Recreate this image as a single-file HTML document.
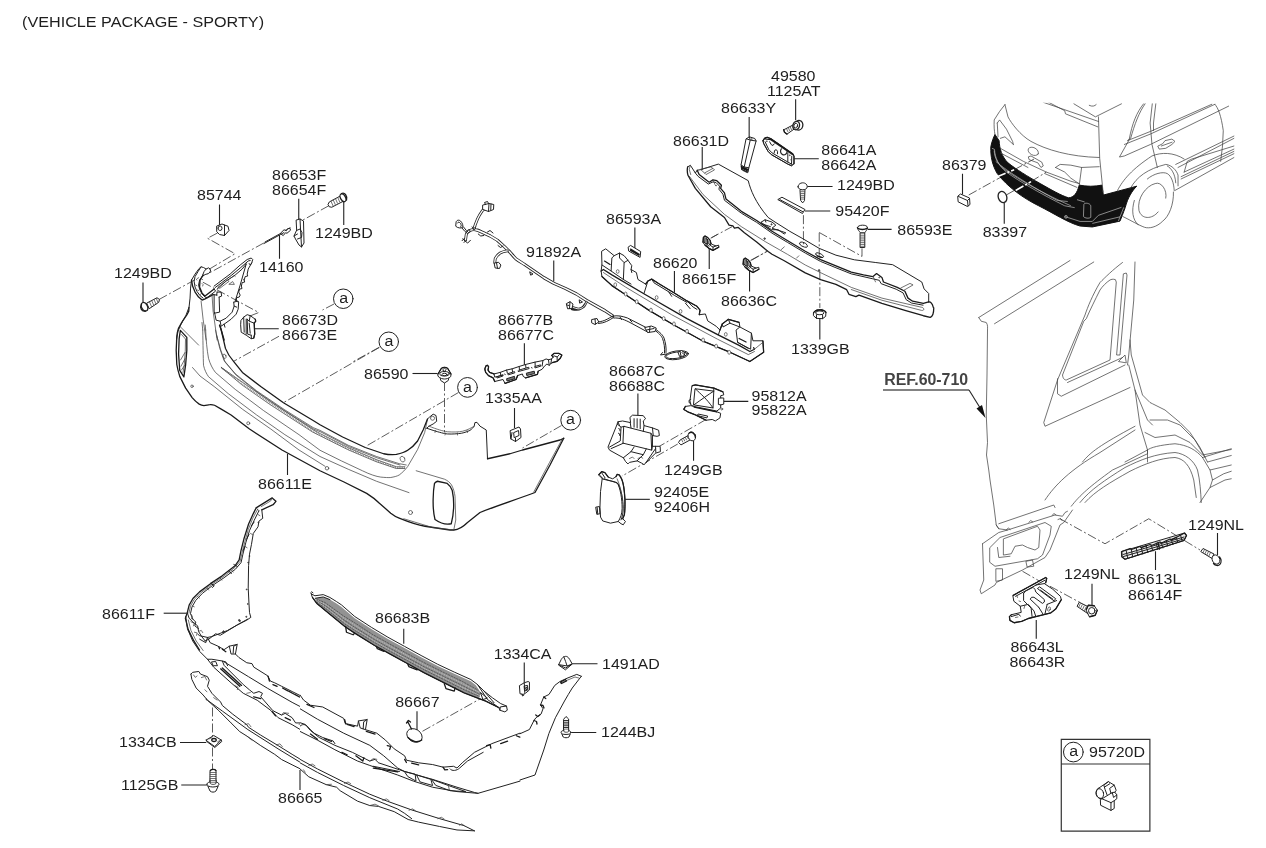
<!DOCTYPE html>
<html><head><meta charset="utf-8"><title>Rear Bumper</title>
<style>
html,body{margin:0;padding:0;background:#fff;}
body{width:1266px;height:848px;overflow:hidden;font-family:"Liberation Sans",sans-serif;}
svg{display:block;position:absolute;left:0;top:0;will-change:transform;}
svg text{font-family:"Liberation Sans",sans-serif;font-size:15.3px;fill:#1e1e1e;}
svg path,svg circle,svg ellipse,svg rect,svg line,svg polyline,svg polygon{vector-effect:non-scaling-stroke;}
svg .h ellipse,svg .h circle{vector-effect:none;}
.l{fill:none;stroke:#222;stroke-width:1;stroke-linecap:round;stroke-linejoin:round;}
.t{fill:none;stroke:#444;stroke-width:0.75;stroke-linecap:round;stroke-linejoin:round;}
.w{fill:#fff;stroke:#222;stroke-width:1;stroke-linejoin:round;stroke-linecap:round;}
.d{fill:none;stroke:#333;stroke-width:0.8;stroke-dasharray:9 2.5 2 2.5;}
.k{fill:none;stroke:#1a1a1a;stroke-width:1.3;stroke-linecap:round;stroke-linejoin:round;}
.ld{fill:none;stroke:#222;stroke-width:1.1;}
.b{fill:#111;stroke:#111;stroke-width:1;stroke-linejoin:round;}
.g{fill:#888;stroke:#222;stroke-width:0.8;}
</style></head>
<body>
<svg width="1266" height="848" viewBox="0 0 1266 848">
<rect width="1266" height="848" fill="#fff"/>
<g transform="translate(100,150) scale(0.25)">
<!-- leaders -->
<path class="ld" d="M478,218V300 M795,195V278 M975,200V300 M718,340V435 M172,530V610 M615,715H715"/>
<!-- dash-dot axis lines -->
<path class="d" d="M470,332L430,353L540,415L428,482"/>
<path class="d" d="M915,223L812,280 M762,310L740,322 M655,372L430,496"/>
<path class="d" d="M236,598L400,508"/>
<path class="d" d="M600,664L635,650L410,528"/>
<path class="d" d="M936,616L890,640"/>
<path class="d" d="M1117,789L1010,848"/>
<path class="d" d="M716,745L535,845"/>
<!-- 85744 clip -->
<path class="w" d="M468,304L488,296L498,300L512,305L516,322L498,342L478,338L468,328Z"/>
<path class="l" d="M498,300L498,342 M472,312a8,9 0 1,0 16,2a8,9 0 1,0 -16,-2"/>
<!-- 14160 rivet -->
<path class="l" d="M656,374L722,338L736,330 M660,368L722,334 M722,333l14,-14l10,4l4,-8l10,-2l2,8l-14,12l-6,-2l-8,10z"/>
<!-- 86653F bracket -->
<path class="w" d="M786,280L800,276L814,284L816,372L806,388L796,380L782,356L776,344L786,322Z"/>
<path class="l" d="M800,276L806,388 M786,322L800,316L808,330L806,350L790,356 M776,344L790,336"/>
<!-- screw upper right -->
<path class="w" d="M961,184L917,208L912,218L917,227L927,229L975,204Z"/>
<path class="t" d="M951,190l8,18 M942,195l8,18 M933,200l8,18 M924,205l8,18"/>
<ellipse class="w" cx="972" cy="191" rx="10" ry="17" transform="rotate(-28 972 191)" style="stroke-width:1.3"/>
<path class="k" d="M966,174C978,168 990,182 986,200"/>
<!-- screw left -->
<path class="w" d="M188,612L228,591L238,598L235,609L198,634Z"/>
<path class="t" d="M198,608l8,18 M207,603l8,18 M216,598l8,18 M225,594l7,16"/>
<ellipse class="w" cx="178" cy="627" rx="12" ry="18" transform="rotate(-28 178 627)" style="stroke-width:1.3"/>
<path class="k" d="M166,618C158,630 166,648 182,644"/>
<!-- circles a -->
<circle class="w" cx="973" cy="595" r="39"/>
<circle class="w" cx="1155" cy="767" r="39"/>
</g>
<g transform="translate(150,240) scale(0.25)">
<!-- dash-dot lines to circles a -->
<path class="d" d="M917,430L535,650"/>
<path class="d" d="M1234,610L862,826"/>
<path class="d" d="M1178,568V770"/>
<path class="d" d="M1646,742L1490,832"/>
<!-- outer left + bottom edge -->
<path class="k" d="M156,270L155,285L147.3,300L130.8,323.6L114.3,352C110,365 108,375 107.2,385L104.8,441.6L107.2,498C110,515 114,530 119,545.4L142.6,592.6L168.6,630.4C178,642 188,650 196.9,656.4C203,660 209,662 215.8,662.5C225,662 232,659 239.4,658.7C247,658 252,659 258.2,661L286.6,677.6L324.3,700L398,756L528,840L680,923L776,968L866.7,1013.4C890,1028 905,1040 917.6,1053L963,1092.6C975,1102 985,1108 996.8,1112.4C1040,1130 1070,1140 1100,1145L1200,1160L1215,1160C1240,1158 1255,1145 1270,1130L1320,1090C1380,1065 1460,1040 1540,1010L1600,900L1655,793"/>
<path class="t" d="M1535,1008L1598,890L1648,798"/>
<!-- body creases -->
<path class="t" d="M222.6,360C224,400 228,440 234,473C240,495 250,515 262,530L341,597.6L454.6,682.5L596,778.7L680,841L765,883.3L849.7,923C880,938 905,946 923,948.4C940,950 955,951 963,950C975,948 988,945 996.8,940C1010,930 1022,918 1030.8,906L1070.4,838L1098.7,770L1110,716.4"/>
<path class="t" d="M211,360C212,420 213,470 214,501C218,520 226,535 234,546.7L313,614.6L426,699.5L539.5,778.7L680,866L793,917L906,965L1036,1010.6"/>
<path class="t" d="M170,510L200,544L256.6,586L370,677L483,756L596,840L700,905"/>
<path class="t" d="M208,330L211,360 M221,340L222.6,360"/>
<!-- heavy inner top lip -->
<path class="k" d="M278,340L284.9,360L301.8,433.5C310,455 322,472 335.8,487.3L369.7,529.7L443,586L533.8,651L652.6,722L680,739L770.5,788L861,830L934.6,855C955,859 970,859 985.5,857.8C1005,853 1020,848 1030.8,840.9C1048,830 1060,818 1070.4,804L1093,758.8L1110,716.4"/>
<path class="t" d="M262,360L279,433.5L296,481.6L341.5,535.4L426,603L539.5,679.7L652.6,750.4L680,761.6L793,821L906,866L996.8,894.6L1025,900"/>
<path class="t" d="M266,380L283,440L300,488L345,541L430,609L543,686L656,757L684,768L797,827L910,872L1000,900"/>
<!-- hatched strip -->
<path d="M285,510L370,575L483,654L652.6,764.5L680,778.6L793,835L906,883L985.5,910.5L1019.5,910.5" fill="none" stroke="#888" stroke-width="1.6" stroke-dasharray="0.8 1.0"/>
<path class="t" d="M285,510L367,579L480,658L650,768L678,782L791,838.5L904,886.5L985,914L1019.5,914 M285,510L373,571L486,650L655,760.5L682,775L795,831.5L908,879.5L986,907L1019.5,907"/>
<!-- scoop tab and right-top arc -->
<path class="l" d="M1110,716L1118.5,708L1132.6,696.6L1144,702L1146.8,725L1132.6,736L1115.7,744.7L1107,753"/>
<path class="t" d="M1122,712a8,8 0 1,0 16,2a8,8 0 1,0 -16,-2"/>
<path class="l" d="M1107,753L1132.6,761.6C1160,770 1175,774 1189,775.8C1210,777 1230,775 1245.8,773C1260,770 1270,766 1279.7,761.6C1288,756 1293,750 1296.7,744.7L1299.5,730.5L1308,729.4L1320,744.7L1345,760L1350,875"/>
<path class="t" d="M1115.7,744.7C1150,758 1170,764 1189,767C1215,769 1235,768 1250,765C1270,760 1285,752 1296.7,744.7 M1140,770l2,-8 M1180,780l2,-8 M1230,780l0,-8 M1270,770l-2,-8"/>
<path class="k" d="M1350,875L1440,855L1490,840L1640,800L1655,793"/>
<!-- right side lower lines -->
<path class="t" d="M1064.7,923L1178,956.8C1190,962 1200,970 1206,979.5C1214,995 1218,1010 1220,1024.7L1223,1120L1215,1160 M1015,1115L1130,1150L1215,1160"/>
<!-- left reflector -->
<path class="k" d="M121.4,361.4L147.3,389.7L147.3,441.6L142.6,498.2L135.5,547.8L119,521.8L114.3,455.8L116.6,394.4Z"/>
<path class="t" d="M126,378L142,396L141,445L137,500L132,530 M122,480L140,450 M124,505L140,475 M126,520l12,-18 M121.4,347.2L194.5,420.4"/>
<!-- right reflector -->
<path class="k" d="M1138,973.8C1142,968 1146,966 1149.6,965L1189,973.8C1200,982 1206,992 1209,1002C1214,1025 1215,1045 1214.7,1064C1214,1090 1212,1110 1205,1135C1185,1140 1160,1132 1140,1118C1133,1090 1132,1060 1132.6,1036C1133,1010 1135,990 1138,973.8Z"/>
<!-- sensor holes -->
<circle class="t" cx="168" cy="585" r="5"/><circle class="t" cx="393" cy="733" r="6"/>
<ellipse class="t" cx="298" cy="465" rx="6" ry="9" transform="rotate(-20 298 465)"/><circle class="t" cx="708" cy="913" r="7"/>
<ellipse class="t" cx="1010" cy="876.5" rx="9" ry="12" transform="rotate(-30 1010 876.5)"/><circle class="t" cx="1042" cy="1090" r="8"/>
<!-- 86590 clip -->
<path class="w" d="M1160,548L1163,562L1178,572L1193,562L1196,548Z"/>
<path class="w" d="M1152,536L1165,514C1172,508 1184,508 1191,514L1204,536L1203,546C1195,554 1185,556 1178,556C1171,556 1161,554 1153,546Z"/>
<path class="k" d="M1152,536L1165,514C1172,508 1184,508 1191,514L1204,536"/>
<ellipse class="l" cx="1178" cy="535" rx="19" ry="9"/><ellipse class="l" cx="1178" cy="538" rx="10" ry="5"/>
<path class="k" d="M1172,518L1178,512L1184,518L1178,526Z" style="stroke-width:1"/>
<path class="ld" d="M1050,534H1150"/>
<!-- 86611E leader -->
<path class="ld" d="M550,855V940"/>
<!-- circles a -->
<circle class="w" cx="1270" cy="589.6" r="39.5"/>
<circle class="w" cx="1682.8" cy="720.8" r="39.5"/>
<!-- 1335AA clip + leader -->
<path class="ld" d="M1458,672V752"/>
<path class="w" d="M1442,762L1476,748L1482,756L1484,790L1462,806L1444,796Z"/>
<path class="l" d="M1456,770L1474,762L1476,782L1458,790Z M1444,796L1448,770 M1462,806L1462,792"/>
</g>
<g transform="translate(430,180) scale(0.25)">
<path class="ld" d="M495,322V405"/>
<!-- harness main tube -->
<g fill="none" stroke-linecap="round" stroke-linejoin="round">
<path stroke="#222" stroke-width="3.2" d="M156,204C165,199 174,197 181.6,198.6C190,200 199,204 207,208L241,224L269.3,241L297.6,266.5L320.3,289C328,298 335,307 343,314.6C354,323 366,330 377,337L410.8,360L456,391L495.7,413.6L541,433.4L586,456L625.8,481.5L671,507L700,523L730,543"/>
<path stroke="#fff" stroke-width="1.5" d="M156,204C165,199 174,197 181.6,198.6C190,200 199,204 207,208L241,224L269.3,241L297.6,266.5L320.3,289C328,298 335,307 343,314.6C354,323 366,330 377,337L410.8,360L456,391L495.7,413.6L541,433.4L586,456L625.8,481.5L671,507L700,523L730,543"/>
<path stroke="#222" stroke-width="2.9" d="M176,194C180,180 185,168 190,156C196,143 203,132 210,122L222,112 M156,204C150,208 147,213 145,218.4L142,240 M309,283.5C298,285 288,288 280.7,292C272,298 265,306 260.9,314.6L259,330"/>
<path stroke="#fff" stroke-width="1.3" d="M176,194C180,180 185,168 190,156C196,143 203,132 210,122L222,112 M156,204C150,208 147,213 145,218.4L142,240 M309,283.5C298,285 288,288 280.7,292C272,298 265,306 260.9,314.6L259,330"/>
<path stroke="#222" stroke-width="2.4" d="M625.8,488C622,497 619,503 614.5,507C607,513 600,516 591.9,515.5L572,510 M620,497C610,515 590,522 568,516"/>
<path stroke="#fff" stroke-width="0.9" d="M625.8,488C622,497 619,503 614.5,507C607,513 600,516 591.9,515.5L572,510"/>
</g>
<path class="l" d="M730,545C750,540 770,545 790,552L880,598 M735,552C760,550 780,560 800,570L870,608 M730,545C710,555 700,565 672,568 M734,550C715,562 700,572 674,574"/>
<path class="l" d="M896,599C915,612 925,622 930,634C936,650 940,670 938,692 M902,597C921,610 931,620 936,632C942,650 946,670 944,690 M930,690L922,700L946,696 M760,548l6,10 M800,560l8,8"/>
<!-- connectors -->
<path class="w" d="M212,100L236,94L255,98L254,118L234,126L212,118Z"/><path class="l" d="M236,94L234,126 M222,98l-4,-8l12,-4l4,8 M244,96L243,120"/>
<path class="l" d="M104,170C104,160 116,158 122,164C130,172 134,184 130,190C124,194 110,192 104,186Z M110,172C112,166 118,168 122,174C126,180 126,186 122,188 M133.5,187.3L145,201.5L153.4,210 M128,192L140,206L150,214"/>
<path class="l" d="M130.7,235.4L150.5,252.4L161.8,241 M128,243l10,-10 M136,250l8,-8"/>
<path class="l" d="M193,216l10,8l12,-2 M230,208l10,-6l12,10 M272,262l10,8l10,-6 M400,368L412,376L404,380Z M598,480L610,488L600,492Z M168,188l8,6l6,-6"/>
<path class="w" d="M258,332L274,329L283.5,340L278,354L262,352Z"/><path class="l" d="M266,331L270,353"/>
<path class="w" d="M546.6,494L560,487L572,496L568,514L552,515Z"/><path class="l" d="M560,487L558,514 M548,500l8,2"/>
<path class="w" d="M648,558L668,554L675,568L660,578L648,572Z"/><path class="l" d="M660,556l2,20"/>
<path class="w" d="M860,590L885,584L905,592L900,606L872,610Z"/><path class="l" d="M880,586L878,608 M866,600l30,-6"/>
<ellipse class="l" cx="986.6" cy="700.8" rx="48" ry="17" transform="rotate(-8 986.6 700.8)"/><ellipse class="l" cx="986.6" cy="700.8" rx="43" ry="12.5" transform="rotate(-8 986.6 700.8)"/>
<path class="w" d="M993,688L1006,682L1020,692L1016,704L1000,706Z"/><path class="k" d="M1000,686l4,18 M1008,690l8,8" style="stroke-width:1"/>
</g>
<g transform="translate(595,235) scale(0.153327)">
<!-- leaders -->
<path class="ld" d="M260,-49V85 M518,235V375 M745,85V222 M1008,235V368"/>
<!-- 86593A pad -->
<path class="w" d="M218,78L232,68L298,108L294,146L222,106Z"/>
<path class="k" d="M232,92L288,126 M232,100L286,132"/>
<!-- absorber outline -->
<path class="w" d="M45,105L70,90L125,135L160,118L190,135L215,165L240,200L235,225L270,245L280,290L330,320L345,300L370,288L420,320L520,380L600,430L665,465L685,490L680,520L720,515L735,560L790,595L815,620L830,580L870,550L940,570L945,600L1020,640L1030,690L1095,690L1100,765L1010,825L870,760L700,690L520,590L350,490L200,390L110,330L45,270L40,235L45,195Z"/>
<path class="l" d="M45,195L105,235L110,150L125,135 M105,235L185,290L190,180L160,150L160,118 M190,180L215,165 M185,290L235,320 M235,225L240,245"/>
<path class="k" d="M40,235L55,225L110,260L330,390L600,545L800,650L940,720L1010,760L1040,745L1035,735"/>
<path class="k" d="M45,270L110,330L200,390L350,490L520,590L700,690L870,760L1010,825L1100,765L1095,690"/>
<path class="k" d="M330,320L345,300L370,288L420,320L520,380L600,430L665,465L685,490L680,520 M815,620L830,580L870,550L940,570"/>
<path class="t" d="M55,245L200,340L500,520L800,680L1000,780L1040,760 M1040,745L1095,700"/>
<path class="l" d="M320,380L345,300 M370,288L385,312L480,370L520,395L600,440 M480,370L500,400 M600,430L640,470L665,485 M590,445L620,480"/>
<path class="l" d="M815,620L805,650 M870,550L880,575L945,600L920,620L930,700L1015,745L1020,640 M880,575L835,600L830,580 M930,700L1000,740"/>
<path class="k" d="M62,170L98,192 M940,675L985,698"/>
<g class="h" fill="#fff" stroke="#444" stroke-width="4.6"><ellipse cx="132" cy="325" rx="9" ry="13"/><ellipse cx="200" cy="385" rx="9" ry="13"/><ellipse cx="272" cy="435" rx="9" ry="13"/><ellipse cx="365" cy="490" rx="9" ry="13"/><ellipse cx="448" cy="545" rx="9" ry="13"/><ellipse cx="515" cy="580" rx="9" ry="13"/><ellipse cx="600" cy="628" rx="9" ry="13"/><ellipse cx="705" cy="685" rx="9" ry="13"/><ellipse cx="790" cy="725" rx="9" ry="13"/><ellipse cx="875" cy="765" rx="9" ry="13"/>
<ellipse cx="148" cy="238" rx="9" ry="12"/><ellipse cx="402" cy="408" rx="9" ry="12"/><ellipse cx="558" cy="498" rx="9" ry="12"/><ellipse cx="853" cy="648" rx="9" ry="12"/></g>
<!-- dash lines from small brackets -->
<path class="d" d="M760,18L800,-5 M1020,165L1120,108"/>
</g>
<g transform="translate(730,110) scale(0.0825764)">
<path class="ld" d="M795,-130V125 M232,85V325 M778,590H1075"/>
<!-- bolt 1125AT -->
<path class="w" d="M775,175L665,233L650,238L660,270L690,292L795,218Z"/>
<path class="k" d="M650,238L660,270L690,292"/>
<path class="t" d="M750,190l16,36 M728,201l16,36 M706,213l16,36 M684,225l16,36"/>
<ellipse class="w" cx="832" cy="185" rx="50" ry="58" transform="rotate(15 832 185)" style="stroke-width:1.3"/>
<ellipse class="w" cx="802" cy="188" rx="40" ry="52" transform="rotate(15 802 188)" style="stroke-width:1.3"/>
<ellipse class="l" cx="796" cy="190" rx="22" ry="30" transform="rotate(15 796 190)"/>
<!-- 86633Y strap -->
<path class="w" d="M198,348L235,325L300,345L316,375L228,700L215,760L140,722L135,665Z"/>
<path class="l" d="M235,325L245,365L172,690 M198,348L245,365L316,375 M135,665L172,690L228,700"/>
<path class="k" d="M140,700L215,740 M138,684L222,722 M150,690l-4,30 M175,700l-4,36 M200,712l-4,36"/>
<circle class="t" cx="262" cy="352" r="4"/>
<!-- 86641A bracket -->
<path class="w" d="M400,370L420,340L450,330L500,350L760,530L775,560L775,650L745,675L700,655L500,540L460,500L410,410Z"/>
<path class="k" d="M400,370L420,340L450,330L500,350L760,530L775,560L775,650 M426,350L494,360L756,540" style="stroke-width:1.2"/>
<path class="l" d="M400,370L410,410L460,500L500,540L700,655L745,675L775,650 M425,385L470,480L510,520L700,630L745,655 M480,385L500,420L520,430L535,410 M535,520L540,490L560,480L575,500L575,530 M700,520L700,630 M745,655L748,560"/>
<path class="l" d="M622,470a40,44 0 1,0 70,30" style="stroke-width:1.2"/>
<circle class="t" cx="722" cy="548" r="5"/><circle class="t" cx="740" cy="604" r="5"/><circle class="t" cx="445" cy="378" r="4"/>
</g>
<g transform="translate(680,150) scale(0.153327)">
<!-- leaders -->
<path class="ld" d="M145,-20V128 M830,238H995 M815,398H980 M1225,518H1380 M912,1040V1236"/>
<!-- dash-dot -->
<path class="d" d="M805,425V615 M908,540V690 M912,790V1030"/>
<path class="d" d="M908,538L1187,694V640"/>
<path class="d" d="M200,575L340,500 M460,720L570,660"/>
<!-- beam top/back edge -->
<path class="l" d="M50,110L68,100L100,150L112,132L135,128L250,92L445,200C460,260 490,340 575,440L620,470L717,531L797,576L907,641L1017,686L1137,716L1277,734L1387,748L1577,861L1592,906L1622,936L1622,991"/>
<!-- left end cap + bottom edge -->
<path class="k" d="M50,110C45,130 48,150 52,165L100,250L200,370L290,440L320,490L345,495L355,510L380,505L420,540L500,600L560,650L575,662L600,680L680,722L817,801L917,846L1017,876L1087,911L1102,941L1147,956L1167,946L1317,1001L1467,1046L1587,1081L1632,1091C1650,1085 1655,1060 1655,1030L1652,1026C1645,1000 1635,990 1622,991"/>
<!-- front face top edge (heavy double) -->
<path class="k" d="M112,132L125,160L190,210L215,195L240,200L270,230L265,250L290,280L300,320L400,400L500,460L600,530L700,590L817,660L917,715L1017,756L1117,796L1197,814L1257,826L1282,806L1317,831L1327,861L1417,896L1467,921L1487,966L1517,986L1587,1001L1622,991"/>
<path class="l" d="M100,150L118,172L185,222L215,208L235,212L258,236L254,256L280,288L290,328L400,412L500,472L600,542L700,602L817,672L917,727L1017,768L1117,808L1257,840L1300,850L1312,872L1410,908L1455,932L1475,976L1510,998L1585,1012"/>
<path class="t" d="M68,100L60,125L70,160 M60,170L150,290L290,420L400,500L560,600L700,680L817,750L917,800L1117,896L1317,966L1577,1026C1595,1030 1595,1050 1575,1046L1317,980L1117,910"/>
<!-- top surface details -->
<path class="t" d="M135,128L160,150L215,120L200,112Z M160,150L170,160L225,130L215,120 M215,195L228,225 M232,232a3,3 0 1,0 6,0a3,3 0 1,0 -6,0"/>
<path class="l" d="M530,470L555,455L600,470L625,490L600,510L690,540L680,548L640,520L600,520Z M545,485L590,500 M555,455L560,470"/>
<path class="l" d="M780,612a25,12 25 1,0 50,10a25,12 25 1,0 -50,-10 M885,680a25,10 25 1,0 50,12a25,10 25 1,0 -50,-12"/>
<path class="k" d="M895,690L925,700"/>
<path class="t" d="M1260,826L1275,860 M1297,831a3,3 0 1,0 6,0a3,3 0 1,0 -6,0 M1440,900L1500,870L1520,880L1460,915"/>
<path class="t" d="M660,650L680,632 M760,705L775,690 M560,650L575,662"/>
<circle class="g" cx="552" cy="578" r="5"/><circle class="g" cx="907" cy="785" r="5"/><circle class="g" cx="597" cy="485" r="4"/>
<!-- screw 1249BD (top) -->
<path class="w" d="M785,258L815,258L812,330L800,345L788,330Z"/>
<path class="t" d="M787,272h26 M787,284h26 M787,296h26 M787,308h26 M788,320h24"/>
<path class="w" d="M770,240C770,205 830,205 830,240C830,252 815,260 800,260C785,260 770,252 770,240Z"/>
<!-- 95420F strip -->
<path class="w" d="M640,322L665,308L815,388L800,412Z"/>
<path class="l" d="M652,324L800,402"/>
<!-- 86593E bolt -->
<path class="w" d="M1177,540L1205,540L1205,636L1177,636Z"/>
<path class="t" d="M1177,556h28 M1177,568h28 M1177,580h28 M1177,592h28 M1177,604h28 M1177,616h28 M1177,628h28"/>
<path class="w" d="M1157,505C1160,485 1220,485 1223,505C1223,520 1210,530 1205,540L1177,540C1170,530 1157,520 1157,505Z"/>
<path class="k" d="M1158,508C1175,522 1205,522 1222,508"/>
<!-- nut 1339GB -->
<path class="w" d="M872,1060L890,1042L930,1040L952,1058L950,1085L930,1100L890,1098L872,1082Z"/>
<path class="k" d="M872,1062C880,1040 945,1038 952,1060"/>
<path class="l" d="M885,1062a26,12 0 1,0 54,0a26,12 0 1,0 -54,0 M890,1075L890,1098 M930,1078L930,1100"/>
</g>
<g transform="translate(930,90) scale(0.25)">
<path class="ld" d="M130,335V418 M297,450V535"/>
<path class="d" d="M155,420L290,345 M305,420L340,400"/>
<!-- 86379 pad -->
<path class="w" d="M112,424L122,416L158,432L160,458L150,466L114,448Z"/>
<path class="l" d="M114,426L150,442L152,464 M150,442L158,434"/>
<!-- 83397 ring -->
<ellipse class="w" cx="290" cy="428" rx="17" ry="23" transform="rotate(-18 290 428)" style="stroke-width:1.3"/>
</g>
<g transform="translate(985,100) scale(0.153327)">
<defs><clipPath id="carclip"><rect x="0" y="18" width="1628" height="830"/></clipPath></defs>
<g clip-path="url(#carclip)">
<!-- black bumper -->
<path class="b" d="M65,225L92,265C95,320 110,370 150,410C200,450 280,500 360,545C430,585 500,625 545,638C580,635 600,610 615,555C660,565 720,565 762,555L772,620L990,562C960,590 930,640 915,700C900,740 890,770 880,790L700,828L620,822C540,800 450,740 350,690C250,640 150,570 80,480C50,430 35,370 38,305C45,270 55,245 65,225Z"/>
<!-- light lines inside black -->
<g fill="none" stroke="#bbb" stroke-width="0.7">
<path d="M45,315L62,322C65,380 90,430 140,470C220,530 380,620 520,690L585,702"/>
<path d="M70,400C150,470 300,560 470,655L540,662"/>
<path d="M60,330C62,380 85,420 130,455C230,525 380,610 560,690"/>
<path d="M600,650L650,665 M520,760L620,792L700,792L740,752L890,700 M700,805L880,762 M905,700C890,740 880,760 870,790"/>
<path d="M645,680C650,668 685,672 690,690L690,765C680,775 650,772 642,760Z"/>
<circle cx="528" cy="762" r="9"/>
</g>
<!-- car body thin lines -->
<g class="t">
<path d="M130,30L95,75L60,130C58,170 60,200 65,225 M130,30L150,110C170,150 230,230 300,270C400,325 550,370 745,375"/>
<path d="M80,150L95,130L140,190L180,270L185,290 M100,250L130,240L185,290 M80,150L85,240"/>
<path d="M100,315L250,400L400,470L560,530L615,545 M100,345L280,440 M390,480L600,570"/>
<ellipse cx="315" cy="335" rx="36" ry="24" transform="rotate(28 315 335)"/>
<path d="M285,370L300,365L370,405L380,430L365,440L345,410L290,390Z"/>
<path d="M460,440L490,420L560,425L630,440L615,555 M460,440L520,470L560,510L612,545 M630,440L745,435"/>
<path d="M380,15L740,140 M415,15L520,70L525,90L735,175 M580,25L720,110L890,25 M680,35C700,45 715,40 725,30"/>
<path d="M740,110L748,380L770,600"/>
<path d="M1034,25C990,80 960,150 940,260L877,372L909,365L1079,290L1589,40 M1044,25C1005,80 975,160 950,250L929,265L1079,205L1479,28 M909,290L1079,222L1499,28"/>
<path d="M1091,25L1077,150L1089,290L1124,440 M1114,25L1099,150L1099,200"/>
<path d="M1499,28C1520,50 1540,100 1554,200L1549,300L1537,400"/>
<path d="M1129,300L1159,285L1174,265L1219,255L1239,270L1219,290L1179,315L1139,320Z M1150,300L1220,275"/>
<path d="M864,590C900,520 960,450 1089,365C1150,340 1230,340 1299,385"/>
<path d="M949,575C990,500 1060,450 1179,420C1220,425 1250,460 1259,490L1259,560 M1059,515C1100,480 1160,465 1189,480C1215,495 1232,540 1234,590 M1189,430C1215,445 1240,480 1244,540"/>
<path d="M1244,420L1624,235 M1259,440L1624,250 M1299,470L1319,400L1349,385L1624,300 M1299,470L1624,320 M1279,500L1624,335 M1279,515L1624,350 M1239,590L1624,375"/>
<path d="M1229,600C1232,680 1200,760 1159,790C1120,830 1070,840 1040,830C1000,815 960,790 899,760"/>
<path d="M974,655C955,720 960,780 1000,815"/>
<path d="M1179,640C1190,590 1150,530 1110,545C1050,560 990,640 1004,720C1020,780 1090,780 1129,730"/>
</g>
<!-- white dash-dot lines crossing black -->
<path d="M80,500L190,455 M200,590L300,532" fill="none" stroke="#fff" stroke-width="1.6" stroke-dasharray="9 2 2 2"/>
</g>
<!-- dash-dot lines outside -->
<path class="d" d="M190,455L320,385 M300,532L400,470"/>
</g>
<g transform="translate(950,250) scale(0.25)">
<g class="t">
<path d="M115,270L125,285L145,290C152,300 150,310 150,320L148,500L145,660L150,770L146,820L155,880L160,920L175,1020L185,1100L195,1115"/>
<path d="M115,270L480,42 M178,295L575,48"/>
<path d="M690,50C650,80 620,110 600,130C570,180 550,230 540,260L430,520L375,690L380,705L720,550"/>
<path d="M740,48L735,200L715,420L710,460"/>
<path d="M660,118C650,115 645,118 640,120C625,130 610,145 600,160C580,200 560,240 545,275L535,285L450,500C452,515 458,520 465,520L640,440L665,130Z"/>
<path d="M430,515L430,575L445,585L700,460 M470,530L690,430"/>
<path d="M695,95L705,92L708,100L680,420L668,420Z M675,445L700,420L705,450Z"/>
<path d="M720,360L725,420L770,580L800,610L810,615L860,640L920,690L960,730L1000,790L1030,848 M715,460L740,560L790,680L810,700 M740,560L760,700L790,800L790,848"/>
<path d="M800,680L870,680L920,700L980,760L1020,830 M780,730L820,750L900,740L960,770L1010,820L1125,798 M1030,848L1125,822"/>
<path d="M530,848C560,810 600,780 740,705 M700,848L790,800"/>
<!-- lower part (K tile coords + 720) -->
<path d="M380,1000C420,940 480,880 600,810L740,720 M485,1025C520,980 560,945 650,880L790,815L790,800"/>
<path d="M520,1010C560,960 620,920 700,870C760,840 820,815 900,810C940,815 975,840 990,880C1000,920 1003,970 1005,1010"/>
<path d="M540,1010C580,965 640,930 720,885C780,855 840,832 900,830C935,835 960,860 975,920L985,990"/>
<path d="M790,800C800,790 840,780 900,775C950,780 985,800 1010,830 M1010,830L1125,795 M1010,830L1040,880L1125,860 M1040,880L1050,920L1095,895L1125,885 M1050,920L1040,950L1100,920L1125,915 M1040,950L1000,1010"/>
<path d="M195,1095L415,1020L420,1030 M185,1100L195,1115L230,1120L420,1060L450,1065L460,1050L470,1045 M130,1175L195,1130L230,1120"/>
<path d="M130,1175L135,1320L120,1360L125,1375L180,1340L185,1330L290,1280L380,1230L400,1200L440,1100L455,1090L490,1040"/>
<path d="M160,1190L200,1150L380,1090L405,1105L400,1140L370,1220L350,1235L180,1265L160,1250Z"/>
<path d="M215,1155L350,1105L360,1120L355,1190L340,1200L310,1190L290,1180L260,1185L245,1215L215,1220Z M190,1190L195,1230L240,1225"/>
<path d="M185,1275L210,1275L210,1320L185,1325Z M305,1245L330,1240L335,1265L310,1268Z"/>
<path d="M225,1120l8,-8l8,6 M315,1090l8,-8l8,6 M408,1062l8,-8l8,6 M432,1078l10,-4l6,8"/>
</g>
<!-- REF underline + arrow -->
<path d="M-268,560H76" fill="none" stroke="#5a5a5a" stroke-width="1.7"/><path class="ld" d="M76,560L135,655"/>
<path d="M142,672L106,634L128,620Z" fill="#111"/>
<!-- dash-dot -->
<path class="d" d="M290,1285L385,1340 M400,1345L520,1410 M440,1075L620,1175L795,1075L1000,1200"/>
<!-- leaders -->
<path class="ld" d="M345,1480V1555 M568,1335V1430 M822,1205V1280 M1070,1132V1220"/>
<!-- 86643L bracket -->
<path class="w" d="M252.8,1381.5L383,1309.8L386.8,1313.6L383,1330.6L377.4,1334.3L411.3,1357L441.5,1385.3L445.3,1398.5L422.7,1436.2L403.8,1451.3L373.6,1458.9L343.4,1466.4L313.2,1474L286.8,1485.3L256.6,1491L239.6,1481.5L237.7,1466.4L245.3,1458.9L284.9,1449.5L281.1,1424.9L256.6,1406Z"/>
<path class="k" d="M252.8,1381.5L383,1309.8L386.8,1313.6L383,1330.6 M256.6,1491L239.6,1481.5L237.7,1466.4L245.3,1458.9 M256.6,1491L286.8,1485.3L313.2,1474L343.4,1466.4L403.8,1451.3L422.7,1436.2L445.3,1398.5"/>
<path class="l" d="M262.3,1385.3L379.3,1321.1 M294.4,1374L301.9,1364.5L332.1,1349.4L339.6,1357L343.4,1368.3L377.4,1398.5L377.4,1408L369.8,1413.6L335.9,1389L326.4,1389L320.8,1396.6L354.7,1428.7 M294.4,1374L294.4,1402.3L324.5,1432.5L328.3,1466.4 M281.1,1424.9L313.2,1417.4L335.9,1443.8L343.4,1466.4 M351,1353.2L358.5,1347.6L422.7,1394.7L417,1402.3Z M362.3,1360.8L411.3,1396.6 M388.7,1417.4L426.4,1402.3 M354.7,1428.7L373.6,1458.9 M388.7,1417.4L380,1455 M245.3,1466.4L275.5,1457L281.1,1464.5 M343.4,1340L377.4,1334.3"/>
<ellipse class="t" cx="396.2" cy="1436.2" rx="5" ry="9" transform="rotate(20 396.2 1436.2)"/>
<path class="t" d="M268,1384l2,6 M276,1404l6,2 M300,1420l-4,14 M262,1470l10,-2"/>
<!-- bolt mid -->
<g transform="translate(-3,19)">
<path class="w" d="M512,1405L520,1390L568,1414L558,1436Z"/>
<path class="t" d="M524,1396l-7,15 M532,1400l-7,15 M540,1404l-7,15 M548,1408l-7,15"/>
<path class="w" d="M548,1420L556,1402L580,1404L592,1422L584,1442L562,1448Z"/>
<circle class="l" cx="570" cy="1424" r="13"/>
<path class="k" d="M548,1420L556,1402L580,1404 M562,1448L584,1442L592,1422"/>
</g>
<!-- 86613L strip -->
<path class="w" d="M687,1206L938,1132L946,1142L936,1162L700,1237L688,1228Z" style="fill:#eee"/>
<path class="k" d="M687,1206L720,1194L726,1198L760,1186L766,1190L800,1178L806,1182L840,1168L846,1172L880,1156L886,1160L938,1132L946,1142L936,1162L700,1237L688,1228Z"/>
<path class="l" d="M692,1218L936,1148 M694,1226L934,1156"/>
<path class="l" d="M705,1204l6,30 M725,1198l6,30 M745,1192l6,30 M765,1190l6,26 M785,1184l6,26 M805,1180l6,24 M825,1172l6,26 M845,1170l6,22 M865,1162l6,22 M885,1158l6,20 M905,1148l6,22 M922,1140l6,22"/>
<path class="k" d="M832,1170L838,1196 M884,1158L904,1150 M764,1190L788,1182"/>
<!-- bolt right -->
<path class="w" d="M1004,1205L1012,1194L1056,1216L1048,1232Z"/>
<path class="t" d="M1018,1198l-6,13 M1026,1202l-6,13 M1034,1206l-6,13 M1042,1210l-6,13"/>
<ellipse class="w" cx="1064" cy="1238" rx="15" ry="19" transform="rotate(-25 1064 1238)"/>
<path class="k" d="M1054,1254a15,19 -25 0,0 24,-26"/>
</g>
<g transform="translate(175,490) scale(0.188679)">
<path class="ld" d="M-60,653H62"/>
<!-- band outer edge -->
<path class="k" d="M430,95L515,42L535,60L520,78L460,105 M430,95L415,125L390,180L365,260L350,320L340,370L320,400L250,455L190,495L130,540L95,575L75,610L65,650L55,680L70,740L100,800L130,848"/>
<!-- band inner edge -->
<path class="l" d="M445,110L420,160L395,215L375,280L360,340L350,385L320,420L260,465L200,505L145,548L110,585L90,620L82,655L95,685"/>
<path class="t" d="M438,102L412,150L388,210L370,275L355,335L345,378L318,410L255,460L195,500L138,544L102,580L82,615L74,652"/>
<path class="k" d="M405,190l14,-20 M380,260l12,-24 M362,320l8,-20 M190,495l18,12l-10,10 M330,405l-18,-10 M285,430l14,12" style="stroke-width:1"/>
<path class="t" d="M430,95L445,110 M515,42l-8,16l-50,30 M440,130l10,6 M400,230l10,6 M372,300l10,6 M300,425l8,10 M240,468l8,10 M170,520l8,10 M120,565l10,8 M92,615l10,4"/>
<!-- inner panel edge -->
<path class="l" d="M460,105L465,150L445,165L440,195L415,230L405,290L395,340L390,400L388,520L392,600L395,650L402,675L380,690L330,715L240,770L215,762L180,790L160,800"/>
<path class="l" d="M65,650L75,680L95,700L120,720L125,750L140,775L160,800 M95,685L110,700L105,720L125,735"/>
<path class="t" d="M82,655l10,14l-6,14 M100,710l8,-8 M125,750l14,-6l8,12"/>
<circle class="g" cx="340" cy="690" r="3.5"/><circle class="g" cx="257" cy="750" r="3.5"/><circle class="g" cx="378" cy="672" r="3"/><circle class="g" cx="388" cy="385" r="2.5"/><circle class="g" cx="380" cy="527" r="2.5"/><circle class="g" cx="386" cy="604" r="2.5"/><circle class="g" cx="442" cy="172" r="2.5"/><circle class="g" cx="395" cy="350" r="2.5"/>
</g>
<g transform="translate(100,630) scale(0.25)">
<path class="ld" d="M320,450H425 M325,620H430 M800,560V640"/>
<path class="d" d="M450,310V425 M450,470V560"/>
<!-- 1334CB clip -->
<path class="w" d="M425,440L455,422L485,440L460,465Z"/>
<path class="l" d="M425,440l2,6l32,24l28,-24l-2,-6"/><ellipse class="k" cx="456" cy="440" rx="9" ry="6"/><path class="t" d="M436,436l12,-6 M470,448l8,-6"/>
<!-- bolt 1125GB -->
<path class="w" d="M441,562C445,556 460,556 464,562L464,612L441,612Z"/>
<path class="k" d="M441,562C445,556 460,556 464,562"/>
<path class="t" d="M441,570h23 M441,578h23 M441,586h23 M441,594h23 M441,602h23"/>
<path class="w" d="M432,626L440,644C448,650 456,650 464,644L472,626Z"/>
<path class="w" d="M427,617a24.5,11 0 1,0 49,0a24.5,11 0 1,0 -49,0"/>
<path class="w" d="M441,600L441,614C446,619 459,619 464,614L464,600" style="stroke-width:0.8"/>
<path class="t" d="M441,602h23 M441,609h23"/>
</g>
<g transform="translate(350,630) scale(0.25)">
<path class="ld" d="M268,325V400 M697,130V210 M890,135H990 M885,410H985"/>
<path class="d" d="M290,405L530,270"/>
<!-- 86667 cap -->
<ellipse class="w" cx="258" cy="422" rx="33" ry="25" transform="rotate(32 258 422)"/>
<path class="k" d="M232,430C245,445 270,452 287,440"/>
<path class="k" d="M230,365L246,396 M226,372l8,-10l8,6"/>
<!-- 1334CA clip -->
<path class="w" d="M679,221.6L697,211L712.6,206L717.8,208.6L717.8,239.8L702.3,252.7L692,258L681.5,255.3Z"/>
<path class="l" d="M698,224L710,221.6L711.6,239.8L699.7,243.4Z M697,211L699,250 M704,230l4,-1l1,8l-4,1z M688,256l2,8l6,-4"/>
<!-- 1491AD -->
<path class="w" d="M834.6,138.6L845,117.8C850,110 853,108 855.3,107.5C860,105 865,105 868.3,106.4C873,109 876,113 878.7,117.8L889,136L863,158.3Z"/>
<path class="l" d="M855.3,107.5C860,120 865,132 868.3,143.8L889,136 M834.6,138.6L868.3,143.8 M840,142L863,152L884,138"/>
<!-- 1244BJ screw -->
<path class="w" d="M855.4,356L864,346L874.5,356L874.5,405L855.4,405Z"/>
<path class="k" d="M856,362h18 M856,369h18 M856,376h18 M856,383h18 M856,390h18 M856,397h18" style="stroke-width:0.9"/>
<path class="w" d="M847.6,416L852.7,428C860,432 868,432 876,428L881,416Z"/>
<ellipse class="w" cx="864" cy="409.5" rx="19.7" ry="8.3"/>
<path class="w" d="M855.4,398V406C860,410 870,410 874.5,406V398" style="stroke-width:0.8"/>
<!-- 86611F right part (x>=520) -->
<path class="l" d="M680,415L717.8,398L736,361.7L743.8,351L764.5,335.8L772,315L762,299.5L775,268L795.7,258L819,221.6L839.8,206L868,193L907,177.5L925.4,185"/>
<path class="l" d="M925.4,185L889,232C878,250 868,266 858,284L821.6,351L795.7,413.6L775,480L740,580L680,600"/>
<path class="t" d="M842,212L900,188L915,192"/>
<path class="k" d="M736,362l10,4l2,10 M762,300l10,2l4,10 M775,268l8,6 M743,340l8,6l8,-6 M842,208l20,-10l4,6l-20,10z"/>
<!-- 86683B leader -->
<path class="ld" d="M215,-5V55"/>
</g>
<g transform="translate(300,700) scale(0.174459)">
<defs><clipPath id="oclip"><rect x="0" y="-100" width="1400" height="1100"/></clipPath></defs>
<g clip-path="url(#oclip)"><!-- 86611F top edge -->
<path class="l" d="M0,-29L20,0L60,30L130,40L250,105L260,135L330,150L335,120L385,112L375,170L440,190L490,230L540,280L600,320L610,345L680,360L760,370L820,385L880,380L900,390L930,360L1000,300L1100,250L1261,190"/>
<path class="l" d="M335,120L345,160L375,170 M385,112L365,125L362,165"/>
<path class="k" d="M40,25l40,18 M270,140l40,12 M380,180l50,15 M600,340l10,18 M640,362l40,10 M820,385l10,16l16,-2 M500,262l20,4l-6,18 M1070,262l20,-6l4,20 M1150,250l40,-14 M1240,205l20,8 M256,112l6,24"/>
<path class="l" d="M860,395C870,410 900,405 915,390L960,350L1050,300"/>
<!-- body crease -->
<path class="l" d="M0,50L100,110L250,190L400,260L480,320L560,390L600,410"/>
<!-- lower strip -->
<path class="l" d="M0,130L30,140L60,175L110,215L200,260L300,300L400,350L430,340L450,360L570,400L600,410L760,455L900,500L1000,530L1020,535"/>
<path class="l" d="M0,180L100,230L200,285L330,350L400,375L560,430L650,465L760,500L900,525L1020,535L1261,465"/>
<path class="l" d="M0,150C20,130 40,145 50,160L80,190L110,205L130,215L190,235L200,250 M420,380L570,410"/>
<path class="k" d="M60,195l40,30 M140,222l40,16 M320,320l40,30l6,-20 M240,300l30,14 M420,390l140,22"/>
<path class="l" d="M600,410L660,425L665,465L620,440Z M670,430L750,455L760,490L690,470Z M755,455L850,490L950,525L860,520L780,490Z"/>
<path class="t" d="M850,490l6,24 M400,350l20,-14l20,4"/>
<!-- skid plate -->
<path class="l" d="M0,340L100,395L250,470L400,540L500,580L640,630L800,680L940,720L1000,750"/>
<path class="l" d="M0,395L50,440L150,485L210,500L230,520L330,580L400,605L450,610L540,640L620,685L680,700L800,725L900,745L1000,750"/>
<path class="l" d="M0,360L100,415L250,490L400,560L560,625L600,650L640,680"/>
<path class="t" d="M50,375l20,-8l16,10 M255,478l20,-8l16,10 M475,575l20,-8l16,10 M625,632l20,-8l16,10 M790,680l20,-8l16,10 M915,718l12,-8l14,10 M20,400l10,14 M150,485l30,-2 M400,605l30,-8l20,10"/>
</g>
</g>
<g transform="translate(170,620) scale(0.174459)">
<defs><clipPath id="pclip"><rect x="-200" y="-100" width="945" height="1100"/></clipPath></defs>
<g clip-path="url(#pclip)"><!-- outer-left edge and lower strip lower bound -->
<path class="l" d="M90,-20L100,50L130,120L170,180L215,225L250,270L350,360L420,420L500,460L580,520L620,560L700,600L800,660L860,700L960,735L1080,800L1160,840L1261,870"/>
<path class="t" d="M105,0L120,60L150,120L190,175 M120,10l20,10l-6,14 M140,70l16,4l-4,14"/>
<!-- main top edge -->
<path class="l" d="M160,82L170,90L215,100L230,130L275,150L310,170L340,150L385,140L375,195L395,215L440,245L470,250L480,270L560,320L575,350L600,360L640,380L700,410L760,440L790,470L830,490L870,490L880,500L940,530L1000,560L1010,595L1060,605L1075,580L1130,570L1120,625L1170,640L1220,680L1261,720"/>
<path class="l" d="M340,150L350,195L375,195 M385,140L365,150L362,190 M1075,580L1085,625L1120,625 M1130,570L1105,585L1100,625 M215,100L205,130L170,110"/>
<path class="l" d="M215,100L240,95L330,60L445,-5"/>
<circle class="g" cx="308" cy="68" r="4"/><circle class="g" cx="400" cy="5" r="4"/>
<path class="k" d="M562,322l8,28 M590,370l24,10 M645,390l30,16 M680,408l30,16 M715,426l30,16 M750,444l20,10 M800,490l24,10 M1010,597l40,10 M1130,630l40,14 M1250,722l10,14 M280,155l4,10 M300,168l20,14"/>
<!-- body crease -->
<path class="l" d="M310,240L450,325L560,392L700,472L830,540L1000,622L1140,692L1261,750"/>
<!-- lower strip upper bound -->
<path class="l" d="M215,225L240,225L300,235L310,260L420,370L455,400L480,420L510,410L530,420L520,440L590,520L640,545L660,535L700,560L720,590L760,590L800,620L830,630L830,655L880,665L930,690L940,710L1000,740L1060,770L1100,790L1150,800L1200,810L1261,835"/>
<path class="l" d="M240,240L262,238L272,262L250,262Z M300,235L320,240L330,262"/>
<path class="k" d="M290,280L400,380 M300,275L410,375 M585,525l20,24 M820,660l24,20 M1070,780l30,24 M480,440l40,10 M660,560l30,14 M880,690l40,14 M1000,760l30,14"/>
<path class="t" d="M370,375l20,10l-4,14 M440,420l20,-4 M640,545l10,-14l30,4 M740,600l10,-14l30,10 M900,680l8,-12l24,8 M1140,800l10,-10l24,6"/>
<!-- skid plate -->
<path class="l" d="M120,310L130,300L165,295L175,310L215,325L225,345L215,380L240,420L290,470L300,490L360,540L440,600L450,615L520,660L620,720L700,770L800,830L860,862"/>
<path class="l" d="M120,310L125,340L150,390L190,430L215,460L280,520L350,590L400,640L440,665L520,720L600,770L640,800L700,830L760,860"/>
<path class="l" d="M208,452C206,458 210,461 215.4,460.3L300,522L446.4,628.2L624.8,741.7L811.3,855.2"/>
<path class="t" d="M135,315l10,14l10,-8 M180,330l20,-6l10,20 M200,400l12,12 M250,445l20,14 M430,600l20,-6l14,18 M610,716l20,-6l14,16 M790,828l20,-6l14,16 M440,665l30,24"/>
</g>
</g>
<g transform="translate(585,375) scale(0.153327)">
<path class="ld" d="M345,120V265 M905,172H1065 M708,425V560"/>
<path class="d" d="M790,290L485,465 M605,450L240,660"/>
<!-- 86687C bracket -->
<path class="w" d="M295,275L310,262L380,265L395,285L380,300L385,330L440,345L480,360L485,395L470,400L440,395L440,465L490,465L492,500L460,510L395,575L385,585L370,575L340,560L290,570L280,580L265,565L250,540L160,490L150,470L210,320L215,305L245,300L295,310Z"/>
<path class="w" d="M255,335L430,380L435,490L250,445Z"/>
<path class="l" d="M320,285L320,340 M340,285L340,345 M360,288L360,350 M295,310L300,345 M385,330L380,368 M210,320L235,340L230,430L160,470 M250,445L170,480 M235,340L255,335 M435,490L440,465 M430,380L440,395 M250,540L300,500L320,470 M340,560L380,520L400,482 M395,575L460,480 M300,500L380,520 M215,305L225,330 M220,350l8,4l0,10 M218,380l8,4l0,10 M440,345L445,395 M460,465L462,505"/>
<path class="t" d="M290,545l20,-10l10,10 M345,545l20,-10l12,8"/>
<!-- camera 95812A -->
<path class="w" d="M655,205L690,200L860,240L885,250L880,280L850,300L830,290L790,295L720,260L670,240L645,225Z"/>
<path class="w" d="M700,70L720,65L840,85L900,110L905,130L885,135L885,150L905,150L905,190L885,195L885,215L860,235L710,205L690,195L685,170Z"/>
<path class="k" d="M700,70L720,65L840,85L900,110 M655,205L645,225L670,240L720,260L790,295"/>
<path class="l" d="M720,90L840,105L835,215L710,195Z M720,90C760,130 790,150 835,215 M840,105C800,130 760,160 710,195 M840,85L840,105 M885,150L870,152L870,192L885,195 M740,255L800,268L795,280L735,265Z M690,160l-12,6l2,16l10,4"/>
<circle class="t" cx="892" cy="222" r="6"/>
<path class="k" d="M712,210L858,240"/>
<!-- bolt 1249GB -->
<path class="w" d="M678,392L620,424L610,440L626,456L692,420Z"/>
<path class="t" d="M666,400l8,16 M654,407l8,16 M642,414l8,16 M630,421l8,16"/>
<ellipse class="w" cx="697" cy="400" rx="24" ry="30" transform="rotate(-20 697 400)"/>
<path class="k" d="M680,378a24,30 -20 0,1 40,30"/>
</g>
<g transform="translate(585,455) scale(0.110828)">
<path class="ld" d="M362,400H585"/>
<path class="w" d="M125,178L150,150L180,160L210,200L250,215L280,195L290,175L310,180L330,215C345,250 355,300 360,400C362,460 358,520 355,540L340,575L365,600L345,630L325,620L300,600L230,615L160,595L140,560L135,470L140,330L155,215Z"/>
<path class="k" d="M125,178L150,150L180,160L210,200 M280,195L290,175L310,180L330,215C345,250 355,300 360,400C362,460 358,520 355,540L340,575"/>
<path class="l" d="M155,215C200,230 260,235 290,250C320,300 335,400 335,480C335,530 320,570 300,600 M175,215C220,235 270,240 300,260C325,310 345,400 345,480C345,530 335,560 325,585 M135,185L165,215 M150,160L180,205 M100,470L130,465L135,530L110,535Z M110,475L115,530"/>
<path class="t" d="M290,215C310,260 330,330 338,400"/>
</g>
<g transform="translate(1050,730) scale(0.129719)">
<path d="M87,72H770V780H87Z M87,262H770" fill="none" stroke="#333" stroke-width="1.2"/>
<circle class="w" cx="180" cy="170" r="76"/>
<path class="w" d="M370,452L450,398L495,425L510,465L500,480L515,500L515,530L495,545L495,605L470,620L390,580L388,535L405,528C380,535 350,510 355,480C358,462 365,455 370,452Z"/>
<ellipse class="l" cx="385" cy="490" rx="28" ry="38" transform="rotate(-15 385 490)"/>
<path class="l" d="M405,528L480,482L500,480 M450,398L415,425L425,460L440,500 M495,425L460,450L470,490 M420,440L460,415 M495,545L470,560L470,620 M470,560L400,530 M480,482L490,520L515,500"/>
</g>
<g transform="translate(690,225) scale(0.0789889)">
<g><path class="w" d="M165,215L170,155L190,140L225,160L255,195L265,235L290,250L330,265L362,255L365,280L290,322L235,292L190,255Z"/>
<path class="k" d="M165,215L170,155L190,140L225,160L255,195L265,235 M190,255L235,292L290,322L365,280"/>
<path class="l" d="M190,140L186,222L235,292 M186,222L165,215 M205,170L238,210L240,238 M205,170L203,228L240,270 M265,235L256,258L292,280L330,265 M240,238L256,258 M292,280L290,322 M222,182L222,235"/></g>
<g transform="translate(508,280)"><path class="w" d="M165,215L170,155L190,140L225,160L255,195L265,235L290,250L330,265L362,255L365,280L290,322L235,292L190,255Z"/>
<path class="k" d="M165,215L170,155L190,140L225,160L255,195L265,235 M190,255L235,292L290,322L365,280"/>
<path class="l" d="M190,140L186,222L235,292 M186,222L165,215 M205,170L238,210L240,238 M205,170L203,228L240,270 M265,235L256,258L292,280L330,265 M240,238L256,258 M292,280L290,322 M222,182L222,235"/></g>
</g>
<g transform="translate(305,585) scale(0.165837)">
<path class="w" d="M40,55L60,65L110,58L150,75L190,100L220,120L300,190L400,255L500,315L600,370L700,425L800,478L900,525L1000,570L1040,600L1080,640L1130,680L1180,715L1215,730L1220,755L1205,765L1175,755L1170,740L1090,700L1050,685L960,650L900,620L840,590L720,530L620,475L520,420L420,365L300,290L240,250L130,160L70,110L45,75Z"/>
<path d="M62,80L110,72L150,88L190,112L220,132L300,200L400,265L500,325L600,380L700,435L800,488L900,535L1000,580L1030,605L1060,650L1050,685L960,650L900,620L840,590L720,530L620,475L520,420L420,365L300,290L240,250L130,160L70,110Z" fill="#929292" stroke="none"/>
<g fill="none" stroke="#4a4a4a" stroke-width="0.8" stroke-dasharray="2.2 0.8">
<path d="M66,90L130,130L240,215L300,255L420,330L520,386L620,440L720,494L840,553L960,612L1055,660"/>
<path d="M64,84L120,105L230,185L300,228L410,300L510,355L610,410L710,464L830,524L950,582L1045,635"/>
<path d="M68,100L132,148L240,235L300,274L420,348L520,404L620,458L720,512L840,572L960,632L1052,672"/>
</g>
<g fill="none" stroke="#d8d8d8" stroke-width="0.6" stroke-dasharray="1.5 1.2">
<path d="M65,87L125,118L235,200L300,242L415,315L515,370L615,425L715,479L835,538L955,597L1050,648"/>
<path d="M67,95L131,139L240,225L300,265L420,339L520,395L620,449L720,503L840,562L960,622L1054,666"/>
</g>
<path class="k" d="M45,75L70,110L130,160L240,250L300,290L420,365L520,420L620,475L720,530L840,590L900,620L960,650L1050,685L1090,700L1170,740"/>
<path class="l" d="M40,55l-6,-8l6,-6l8,6 M62,80L110,72L150,88"/>
<path class="k" d="M245,250L250,285L290,300L300,290 M840,595L850,625L900,640L905,620 M430,370l6,14l40,16 M620,478l6,14l50,20"/>
<path class="w" d="M1060,650L1100,682L1075,690Z"/>
<path class="l" d="M1040,600L1100,690L1170,740 M1080,640L1140,710 M1175,755L1178,735L1215,730"/>
</g>
<g transform="translate(170,255) scale(0.100251)">
<!-- outer left edge -->
<path class="l" d="M215,250L205,330L200,430L190,520L160,600L110,690L80,760L65,848"/>
<!-- C-shaped hook tab -->
<path class="l" d="M215,250L250,190L290,135L310,118L335,125L360,140L385,128L400,140L405,160L385,185L350,195L320,215L295,250L285,300L295,340L320,390L350,420L370,425"/>
<path class="k" d="M215,250L225,310L250,370L285,420L320,450L345,440L430,395 M330,200L300,250L295,320L320,380L350,410L440,340"/>
<path class="l" d="M310,118L280,165L250,215L240,260L250,320L270,365L300,405L330,430 M360,140L340,165L320,215 M440,340L455,360L370,425 M430,395L470,400"/>
<path class="t" d="M262,240l6,10 M258,300l10,6 M275,350l10,4 M300,395l8,-6 M320,285l10,10l-4,14 M316,240l10,6"/>
<!-- arm -->
<path class="l" d="M440,310L600,190L700,100L770,45L810,30L825,45L815,80L800,100L790,85"/>
<path class="l" d="M450,325L610,205L700,130L780,60L800,55 M470,340L560,260L650,200L720,140L760,90"/>
<path class="t" d="M480,320L570,250L590,262L500,330Z M600,235l40,-30l10,8 M590,290L625,265L640,290Z M730,240l10,14"/>
<!-- serrated right edge + lower bracket -->
<path class="l" d="M815,80L780,140L770,190L775,210L750,215L740,250L745,270L720,275L712,310L718,335L695,340L685,370L700,400L690,420L665,425L660,460L685,470L680,540L660,590L610,640L540,690L510,710L500,660L560,630L620,570L640,510L635,470"/>
<path class="l" d="M760,90L700,300L650,460 M640,470L665,462 M640,510L665,520"/>
<path class="l" d="M440,395L440,560L450,600L460,650L500,660 M490,420L495,570L445,580 M470,370L510,370L515,410L490,420 M470,370L465,400"/>
<!-- lines going down -->
<path class="t" d="M310,460L330,640L360,848 M420,410L430,560L470,848"/>
<path class="k" d="M500,710L540,848"/>
<path class="l" d="M540,690L548,720"/>
<!-- 86673D bracket -->
<path class="w" d="M710,650L735,620L770,595L800,605L850,640L855,660L840,680L845,790L835,830L810,835L760,800L710,770L705,700Z"/>
<path class="l" d="M735,620L740,770 M770,640L775,790L810,800 M790,680L800,780 M800,605L790,660L840,680 M760,640L760,790 M770,640L790,660 M810,800L812,834"/>
<path class="k" d="M850,640L855,660L840,680L845,790L835,830"/>
</g>
<g transform="translate(475,340) scale(0.0789889)">
<path class="ld" d="M625,40V320"/>
<path class="w" d="M130,350L140,325L160,320L172,340L165,380L185,410L240,430L320,410L400,380L470,365L560,335L640,310L760,280L860,260L900,240L930,250L970,240L990,215L970,195L1000,170L1060,170L1100,190L1080,230L1040,270L980,285L960,300L940,320L910,305L880,330L850,370L800,395L790,435L640,480L610,460L600,430L540,450L520,500L380,550L355,500L250,525L230,480L170,450L135,410L125,370Z"/>
<path class="k" d="M130,350L140,325L160,320L172,340L165,380L185,410L240,430 M250,525L230,480L170,450L135,410L125,370L130,350 M380,550L520,500L540,450 M640,480L790,435L800,395 M990,215L970,195L1000,170L1060,170L1100,190L1080,230L1040,270L980,285"/>
<path class="l" d="M280,465L350,440L355,455L285,480Z M420,425L500,400L505,415L425,440Z M560,380L680,345L685,362L565,395Z M760,335L830,315L835,330L765,352Z"/>
<path d="M400,490L500,460L505,490L405,520Z M650,420L750,395L755,425L655,450Z" fill="#777" stroke="#222" stroke-width="1"/>
<path class="l" d="M240,430L250,470L355,445 M320,410L325,440 M400,380L410,420 M470,365L475,400 M560,335L562,378 M640,310L645,350 M760,280L762,330 M860,260L850,330 M930,250L940,320 M970,240L960,300 M1000,200L1040,215L1060,195 M1040,215L1040,270 M375,432l8,4 M545,395l8,4 M715,350l8,4"/>
</g>
<g id="labels">
<text transform="translate(22 26.5) scale(1.058 1)">(VEHICLE PACKAGE - SPORTY)</text>
<text transform="translate(771 80.8) scale(1.045 1)">49580</text>
<text transform="translate(767 95.8) scale(1.045 1)">1125AT</text>
<text transform="translate(721 113) scale(1.045 1)">86633Y</text>
<text transform="translate(673 145.8) scale(1.045 1)">86631D</text>
<text transform="translate(821.3 154.8) scale(1.045 1)">86641A</text>
<text transform="translate(821.3 169.8) scale(1.045 1)">86642A</text>
<text transform="translate(837 189.9) scale(1.045 1)">1249BD</text>
<text transform="translate(835.3 216.2) scale(1.045 1)">95420F</text>
<text transform="translate(897.3 234.8) scale(1.045 1)">86593E</text>
<text transform="translate(606 223.5) scale(1.045 1)">86593A</text>
<text transform="translate(653 267.5) scale(1.045 1)">86620</text>
<text transform="translate(682 283.5) scale(1.045 1)">86615F</text>
<text transform="translate(721 306) scale(1.045 1)">86636C</text>
<text transform="translate(791 354) scale(1.045 1)">1339GB</text>
<text transform="translate(942 169.5) scale(1.045 1)">86379</text>
<text transform="translate(982.7 236.5) scale(1.045 1)">83397</text>
<text transform="translate(197 199.8) scale(1.045 1)">85744</text>
<text transform="translate(272 179.5) scale(1.045 1)">86653F</text>
<text transform="translate(272 194.5) scale(1.045 1)">86654F</text>
<text transform="translate(315 237.5) scale(1.045 1)">1249BD</text>
<text transform="translate(259 271.5) scale(1.045 1)">14160</text>
<text transform="translate(114 277.5) scale(1.045 1)">1249BD</text>
<text transform="translate(282 325.2) scale(1.045 1)">86673D</text>
<text transform="translate(282 340.2) scale(1.045 1)">86673E</text>
<text transform="translate(364 378.5) scale(1.045 1)">86590</text>
<text transform="translate(498 324.5) scale(1.045 1)">86677B</text>
<text transform="translate(498 339.5) scale(1.045 1)">86677C</text>
<text transform="translate(485 403) scale(1.045 1)">1335AA</text>
<text transform="translate(526 256.8) scale(1.045 1)">91892A</text>
<text transform="translate(609 375.5) scale(1.045 1)">86687C</text>
<text transform="translate(609 390.5) scale(1.045 1)">86688C</text>
<text transform="translate(751.5 401) scale(1.045 1)">95812A</text>
<text transform="translate(751.5 415) scale(1.045 1)">95822A</text>
<text transform="translate(664 474.5) scale(1.045 1)">1249GB</text>
<text transform="translate(654 496.5) scale(1.045 1)">92405E</text>
<text transform="translate(654 511.5) scale(1.045 1)">92406H</text>
<text transform="translate(258 488.5) scale(1.045 1)">86611E</text>
<text transform="translate(102 618.5) scale(1.045 1)">86611F</text>
<text transform="translate(375 622.5) scale(1.045 1)">86683B</text>
<text transform="translate(493.8 659) scale(1.045 1)">1334CA</text>
<text transform="translate(602 668.5) scale(1.045 1)">1491AD</text>
<text transform="translate(395.2 706.5) scale(1.045 1)">86667</text>
<text transform="translate(601 736.5) scale(1.045 1)">1244BJ</text>
<text transform="translate(119 747) scale(1.045 1)">1334CB</text>
<text transform="translate(121 789.5) scale(1.045 1)">1125GB</text>
<text transform="translate(278 802.5) scale(1.045 1)">86665</text>
<text transform="translate(1188 529.5) scale(1.045 1)">1249NL</text>
<text transform="translate(1064 578.5) scale(1.045 1)">1249NL</text>
<text transform="translate(1128 583.8) scale(1.045 1)">86613L</text>
<text transform="translate(1128 599.5) scale(1.045 1)">86614F</text>
<text transform="translate(1010.4 651.8) scale(1.045 1)">86643L</text>
<text transform="translate(1009.4 666.5) scale(1.045 1)">86643R</text>
<text transform="translate(1089 756.5) scale(1.045 1)">95720D</text>
<text transform="translate(884.2 385) scale(0.97 1)" style="font-weight:bold;font-size:16.4px;fill:#444">REF.60-710</text>
<g style="text-anchor:middle;font-size:15.8px"><text transform="translate(343.6 302.6) scale(1.045 1)">a</text><text transform="translate(388.9 345.6) scale(1.045 1)">a</text><text transform="translate(467.5 391.5) scale(1.045 1)">a</text><text transform="translate(570.5 424) scale(1.045 1)">a</text><text transform="translate(1073.7 756) scale(1.045 1)">a</text></g>
</g>
</svg>
</body></html>
